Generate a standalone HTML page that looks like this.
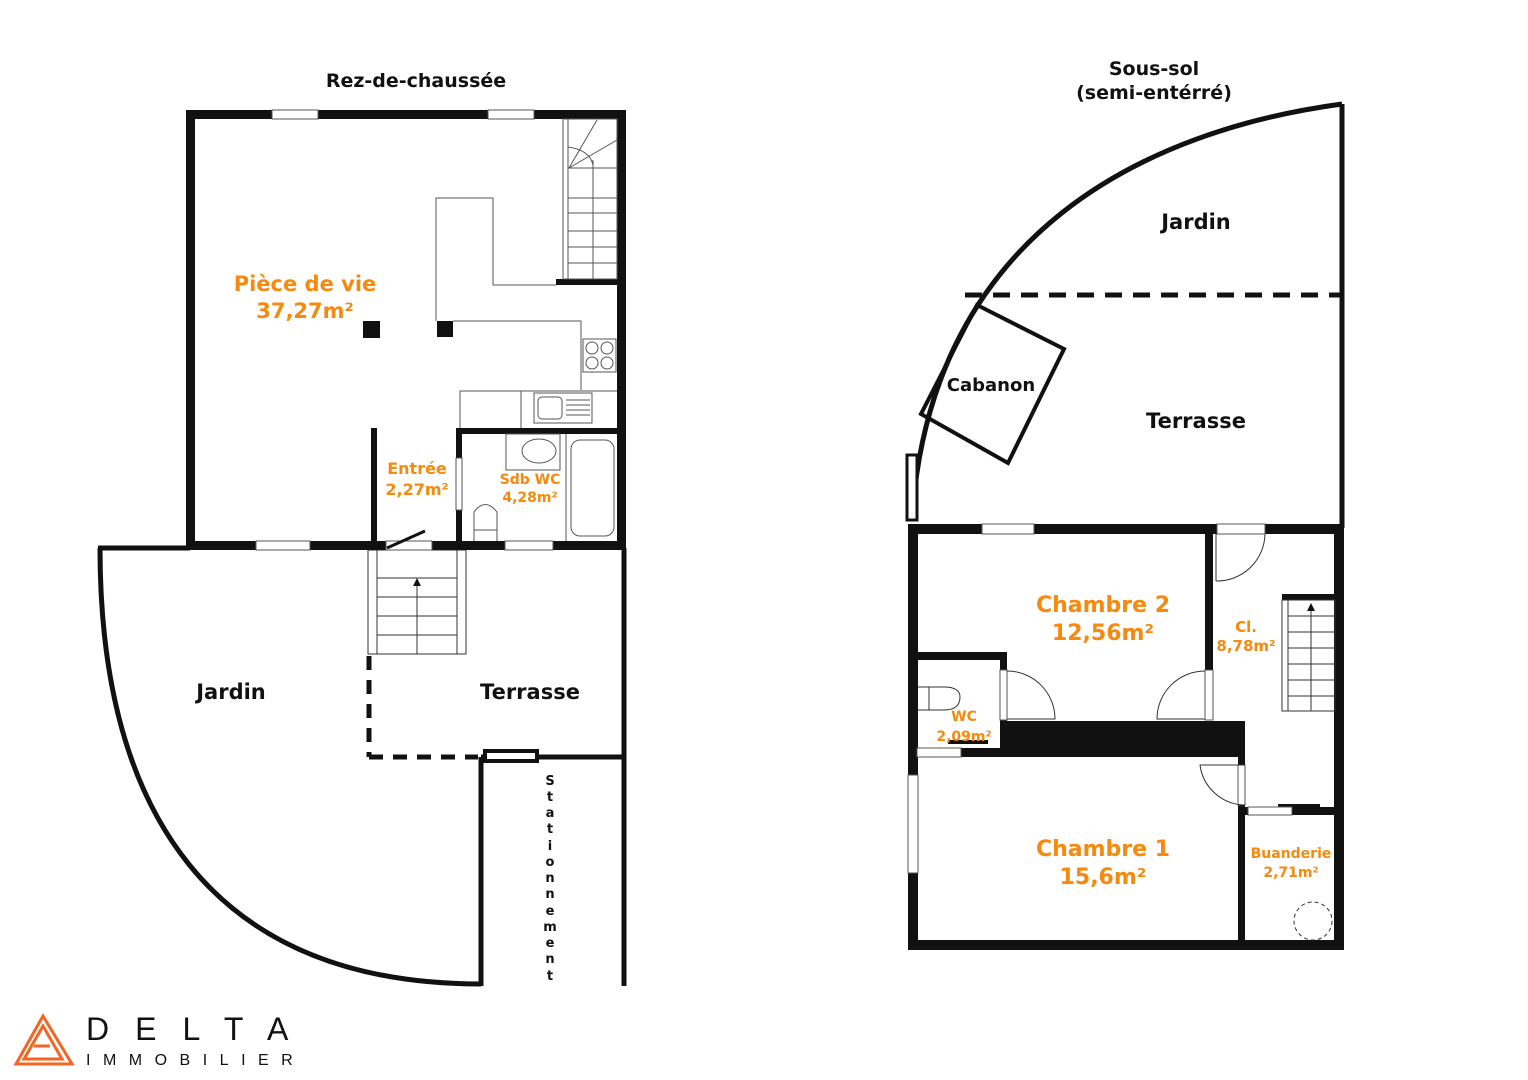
<!DOCTYPE html>
<html><head><meta charset="utf-8"><style>
html,body{margin:0;padding:0;background:#fff;}
svg{display:block;}
text{font-family:"DejaVu Sans","Liberation Sans",sans-serif;font-weight:bold;}
.o{fill:#f7890d;}
.k{fill:#111;}
</style></head><body>
<svg width="1528" height="1080" viewBox="0 0 1528 1080" xmlns="http://www.w3.org/2000/svg">
<rect width="1528" height="1080" fill="#fff"/>
<text x="416" y="87" text-anchor="middle" font-size="19" class="k">Rez-de-chaussée</text>
<text x="1154" y="75" text-anchor="middle" font-size="19" class="k">Sous-sol</text>
<text x="1154" y="99" text-anchor="middle" font-size="19" class="k">(semi-entérré)</text>

<g fill="none" stroke="#111">
<path d="M100,548 C100,810 210,984 481,984" stroke-width="5"/>
<line x1="98" y1="548" x2="190" y2="548" stroke-width="5"/>
<line x1="481" y1="757" x2="481" y2="986" stroke-width="5"/>
<line x1="624" y1="548" x2="624" y2="986" stroke-width="5"/>
<line x1="481" y1="757" x2="624" y2="757" stroke-width="5"/>
<line x1="369" y1="656" x2="369" y2="757" stroke-width="5" stroke-dasharray="14,10"/>
<line x1="369" y1="757" x2="478" y2="757" stroke-width="5" stroke-dasharray="14,10"/>
</g>
<rect x="485" y="751" width="52" height="10" fill="#fff" stroke="#111" stroke-width="4"/>
<g fill="none" stroke="#333" stroke-width="1">
<rect x="368" y="550" width="98" height="104"/>
<line x1="377" y1="550" x2="377" y2="654"/>
<line x1="457" y1="550" x2="457" y2="654"/>
<line x1="377" y1="578" x2="457" y2="578"/>
<line x1="377" y1="597" x2="457" y2="597"/>
<line x1="377" y1="616" x2="457" y2="616"/>
<line x1="377" y1="635" x2="457" y2="635"/>
<line x1="417" y1="585" x2="417" y2="654"/>
</g>
<polygon points="417,578 413,586 421,586" fill="#111"/>

<g fill="#111">
<rect x="186" y="110" width="440" height="9"/>
<rect x="186" y="110" width="9" height="440"/>
<rect x="617" y="110" width="9" height="440"/>
<rect x="186" y="541" width="440" height="9"/>
<rect x="556" y="279" width="63" height="6"/>
<rect x="456" y="428" width="163" height="6"/>
<rect x="456" y="428" width="6" height="30"/>
<rect x="456" y="510" width="6" height="35"/>
<rect x="371" y="428" width="6" height="117"/>
<rect x="363" y="321" width="17" height="17"/>
<rect x="437" y="321" width="16" height="16"/>
</g>
<g fill="#fff" stroke="#555" stroke-width="1">
<rect x="272" y="110" width="46" height="9"/>
<rect x="488" y="110" width="46" height="9"/>
<rect x="256" y="541" width="54" height="9"/>
<rect x="505" y="541" width="48" height="9"/>
<rect x="386" y="541" width="46" height="9"/>
<rect x="456" y="458" width="6" height="52"/>
</g>
<line x1="387" y1="548" x2="425" y2="531" stroke="#111" stroke-width="3"/>
<g fill="none" stroke="#555" stroke-width="1">
<path d="M436,321 V198 H493 V285 H556"/>
<path d="M453,321 H581 V390"/>
<path d="M460,428 V391 H617"/>
<line x1="521" y1="391" x2="521" y2="428"/>
<rect x="583" y="339" width="33" height="33"/>
<circle cx="592" cy="348" r="6"/><circle cx="607" cy="348" r="6"/>
<circle cx="592" cy="363" r="6"/><circle cx="607" cy="363" r="6"/>
<rect x="534" y="393" width="58" height="30"/>
<rect x="538" y="397" width="24" height="22" rx="4"/>
<line x1="566" y1="400" x2="590" y2="400"/><line x1="566" y1="405" x2="590" y2="405"/>
<line x1="566" y1="410" x2="590" y2="410"/><line x1="566" y1="415" x2="590" y2="415"/>
<rect x="563" y="119" width="54" height="160"/>
<line x1="568" y1="119" x2="568" y2="279"/>
<line x1="593" y1="160" x2="593" y2="279"/>
<line x1="568" y1="168" x2="617" y2="168"/>
<line x1="568" y1="198" x2="617" y2="198"/>
<line x1="568" y1="213" x2="617" y2="213"/>
<line x1="568" y1="231" x2="617" y2="231"/>
<line x1="568" y1="247" x2="617" y2="247"/>
<line x1="568" y1="263" x2="617" y2="263"/>
<line x1="569" y1="168" x2="597" y2="120"/>
<line x1="569" y1="168" x2="617" y2="140"/>
<path d="M568,147 Q590,150 593,165"/>
<rect x="506" y="434" width="54" height="36"/>
<ellipse cx="539" cy="451" rx="17" ry="12"/>
<rect x="571" y="440" width="43" height="96" rx="9"/>
<line x1="566" y1="434" x2="566" y2="541"/>
<path d="M474,541 V512 Q485,497 497,512 V541"/>
<line x1="474" y1="530" x2="497" y2="530"/>
</g>
<text x="305" y="291" text-anchor="middle" font-size="21" class="o">Pièce de vie</text>
<text x="305" y="318" text-anchor="middle" font-size="21" class="o">37,27m²</text>
<text x="417" y="474" text-anchor="middle" font-size="16" class="o">Entrée</text>
<text x="417" y="495" text-anchor="middle" font-size="16" class="o">2,27m²</text>
<text x="530" y="484" text-anchor="middle" font-size="14" class="o">Sdb WC</text>
<text x="530" y="502" text-anchor="middle" font-size="14" class="o">4,28m²</text>
<text x="231" y="699" text-anchor="middle" font-size="21" class="k">Jardin</text>
<text x="530" y="699" text-anchor="middle" font-size="21" class="k">Terrasse</text>
<g font-size="13" class="k" text-anchor="middle">
<text x="550" y="785">S</text><text x="550" y="801">t</text><text x="550" y="817">a</text>
<text x="550" y="833">t</text><text x="550" y="850">i</text><text x="550" y="866">o</text>
<text x="550" y="882">n</text><text x="550" y="898">n</text><text x="550" y="915">e</text>
<text x="550" y="931">m</text><text x="550" y="947">e</text><text x="550" y="963">n</text>
<text x="550" y="980">t</text>
</g>

<g fill="none" stroke="#111">
<path d="M1342,104 C1150,130 930,230 912,520" stroke-width="5"/>
<line x1="1342" y1="104" x2="1342" y2="528" stroke-width="5"/>
<line x1="965" y1="295" x2="1344" y2="295" stroke-width="5" stroke-dasharray="17,11"/>
<polygon points="977,305 1064,349 1008,463 921,414" stroke-width="4"/>
</g>
<rect x="907" y="455" width="10" height="65" fill="#fff" stroke="#111" stroke-width="3"/>
<text x="991" y="391" text-anchor="middle" font-size="18" class="k">Cabanon</text>
<text x="1196" y="229" text-anchor="middle" font-size="21" class="k">Jardin</text>
<text x="1196" y="428" text-anchor="middle" font-size="21" class="k">Terrasse</text>

<g fill="#111">
<rect x="908" y="524" width="436" height="10"/>
<rect x="908" y="524" width="10" height="426"/>
<rect x="1334" y="524" width="10" height="426"/>
<rect x="908" y="940" width="436" height="10"/>
<rect x="1205" y="534" width="8" height="185"/>
<rect x="917" y="652" width="90" height="8"/>
<rect x="1000" y="652" width="7" height="70"/>
<rect x="1000" y="721" width="245" height="36"/>
<rect x="960" y="748" width="50" height="9"/>
<rect x="1238" y="755" width="7" height="195"/>
<rect x="1240" y="807" width="102" height="8"/>
<rect x="1282" y="594" width="55" height="6"/>
<rect x="1278" y="804" width="42" height="4"/>
<rect x="948" y="740" width="40" height="4"/>
</g>
<g fill="#fff" stroke="#555" stroke-width="1">
<rect x="982" y="524" width="52" height="10"/>
<rect x="1217" y="524" width="48" height="10"/>
<rect x="908" y="775" width="10" height="98"/>
<rect x="917" y="748" width="44" height="9"/>
<rect x="1248" y="807" width="44" height="8"/>
<rect x="1238" y="765" width="7" height="40"/>
<rect x="1205" y="670" width="8" height="50"/>
<rect x="1000" y="670" width="7" height="50"/>
</g>
<g fill="none" stroke="#333" stroke-width="1">
<path d="M1216,581 V534 M1216,581 A48 48 0 0 0 1265,534"/>
<path d="M1007,719 H1055 A48 48 0 0 0 1007,671"/>
<path d="M1205,719 H1157 A48 48 0 0 1 1205,671"/>
<path d="M1245,805 A46 46 0 0 1 1200,765 H1245"/>
<rect x="1282" y="600" width="53" height="111"/>
<line x1="1288" y1="600" x2="1288" y2="711"/>
<line x1="1311" y1="605" x2="1311" y2="711"/>
<line x1="1288" y1="616" x2="1335" y2="616"/><line x1="1288" y1="632" x2="1335" y2="632"/>
<line x1="1288" y1="648" x2="1335" y2="648"/><line x1="1288" y1="664" x2="1335" y2="664"/>
<line x1="1288" y1="680" x2="1335" y2="680"/><line x1="1288" y1="696" x2="1335" y2="696"/>
<path d="M918,687 H944 Q960,687 960,697 Q960,710 944,710 H918"/>
<line x1="929" y1="687" x2="929" y2="710"/>
<circle cx="1313" cy="921" r="19" stroke-dasharray="4,3"/>
</g>
<polygon points="1311,603 1307,611 1315,611" fill="#111"/>
<text x="1103" y="612" text-anchor="middle" font-size="22" class="o">Chambre 2</text>
<text x="1103" y="640" text-anchor="middle" font-size="22" class="o">12,56m²</text>
<text x="1246" y="632" text-anchor="middle" font-size="15" class="o">Cl.</text>
<text x="1246" y="651" text-anchor="middle" font-size="15" class="o">8,78m²</text>
<text x="964" y="721" text-anchor="middle" font-size="14" class="o">WC</text>
<text x="964" y="741" text-anchor="middle" font-size="14" class="o">2,09m²</text>
<text x="1103" y="856" text-anchor="middle" font-size="22" class="o">Chambre 1</text>
<text x="1103" y="884" text-anchor="middle" font-size="22" class="o">15,6m²</text>
<text x="1291" y="858" text-anchor="middle" font-size="14" class="o">Buanderie</text>
<text x="1291" y="877" text-anchor="middle" font-size="14" class="o">2,71m²</text>

<g fill="none" stroke="#f26522" stroke-width="3">
<polygon points="43,1016 16,1064 72,1064"/>
<polygon points="43,1026 24,1059 62,1059"/>
<line x1="34" y1="1046" x2="50" y2="1046"/>
</g>
<text x="86" y="1040" font-size="32" style="font-family:'Liberation Sans',sans-serif;font-weight:normal;letter-spacing:26px" fill="#111">DELTA</text>
<text x="86" y="1065" font-size="16" style="font-family:'Liberation Sans',sans-serif;font-weight:normal;letter-spacing:12.5px" fill="#111">IMMOBILIER</text>
</svg>
</body></html>
